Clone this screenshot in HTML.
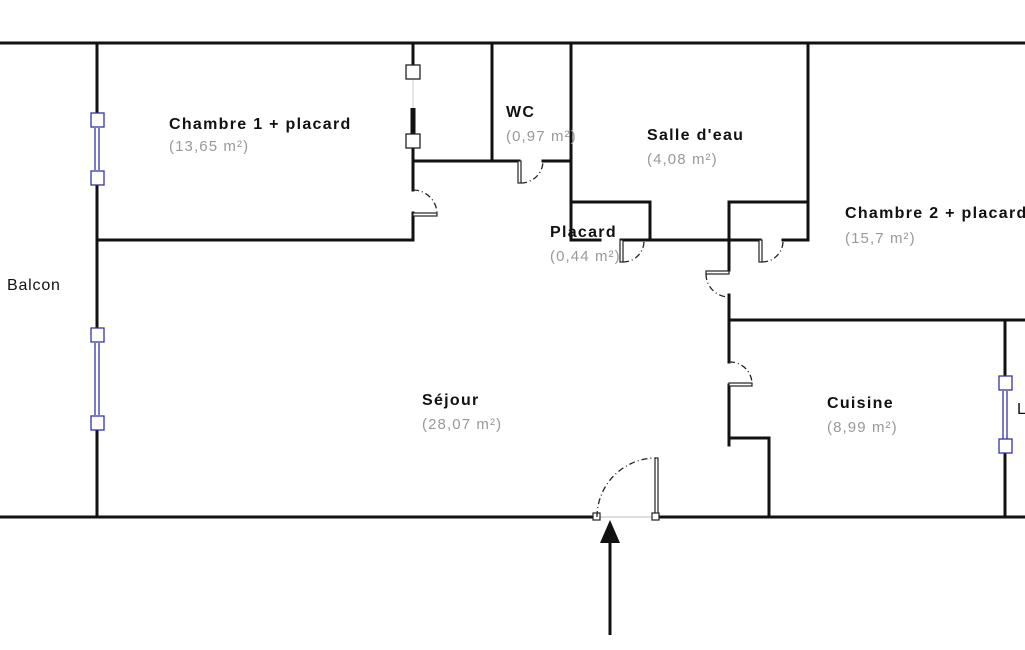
<!DOCTYPE html>
<html><head><meta charset="utf-8"><style>
html,body{margin:0;padding:0;background:#fff;width:1025px;height:650px;overflow:hidden}
svg{display:block}
.b{font-family:"Liberation Sans",sans-serif;font-weight:bold;font-size:16px;fill:#111;letter-spacing:1.3px}
.g{font-family:"Liberation Sans",sans-serif;font-size:15px;fill:#999;letter-spacing:1.1px}
.n{font-family:"Liberation Sans",sans-serif;font-size:16px;fill:#111;letter-spacing:0.8px}
</style></head><body>
<svg width="1025" height="650" viewBox="0 0 1025 650">
<g stroke="#111" stroke-width="3" fill="none" stroke-linecap="square">
<line x1="0" y1="43" x2="1025" y2="43"/>
<line x1="0" y1="517" x2="597" y2="517"/>
<line x1="657" y1="517" x2="1025" y2="517"/>
<line x1="97" y1="43" x2="97" y2="120"/>
<line x1="97" y1="178" x2="97" y2="335"/>
<line x1="97" y1="423" x2="97" y2="517"/>
<line x1="97" y1="240" x2="413" y2="240"/>
<line x1="413" y1="43" x2="413" y2="70"/>
<line x1="413" y1="142" x2="413" y2="190"/>
<line x1="413" y1="213" x2="413" y2="240"/>
<line x1="413" y1="161" x2="519" y2="161"/>
<line x1="543" y1="161" x2="571" y2="161"/>
<line x1="492" y1="43" x2="492" y2="161"/>
<line x1="571" y1="43" x2="571" y2="240"/>
<line x1="571" y1="202" x2="650" y2="202"/>
<line x1="650" y1="202" x2="650" y2="240"/>
<line x1="571" y1="240" x2="600" y2="240"/>
<line x1="621" y1="240" x2="760" y2="240"/>
<line x1="783" y1="240" x2="808" y2="240"/>
<line x1="729" y1="202" x2="808" y2="202"/>
<line x1="808" y1="43" x2="808" y2="240"/>
<line x1="729" y1="202" x2="729" y2="270"/>
<line x1="729" y1="295" x2="729" y2="362"/>
<line x1="729" y1="385" x2="729" y2="445"/>
<line x1="729" y1="320" x2="1025" y2="320"/>
<line x1="729" y1="438" x2="769" y2="438"/>
<line x1="769" y1="438" x2="769" y2="517"/>
<line x1="1005" y1="320" x2="1005" y2="383"/>
<line x1="1005" y1="447" x2="1005" y2="517"/>
</g>
<line x1="413" y1="108" x2="413" y2="134" stroke="#111" stroke-width="5"/>
<line x1="413" y1="79" x2="413" y2="108" stroke="#ccc" stroke-width="1"/>
<line x1="597" y1="517" x2="657" y2="517" stroke="#bbb" stroke-width="1"/>
<g fill="#fff" stroke="#33a" stroke-width="1.3">
<line x1="95" y1="128" x2="95" y2="170"/><line x1="99" y1="128" x2="99" y2="170"/>
<rect x="91" y="113" width="13" height="14"/><rect x="91" y="171" width="13" height="14"/>
<line x1="95" y1="343" x2="95" y2="415"/><line x1="99" y1="343" x2="99" y2="415"/>
<rect x="91" y="328" width="13" height="14"/><rect x="91" y="416" width="13" height="14"/>
<line x1="1003" y1="391" x2="1003" y2="439"/><line x1="1007" y1="391" x2="1007" y2="439"/>
<rect x="999" y="376" width="13" height="14"/><rect x="999" y="439" width="13" height="14"/>
</g>
<g fill="#fff" stroke="#222" stroke-width="1.3">
<rect x="406" y="65" width="14" height="14"/><rect x="406" y="134" width="14" height="14"/>
</g>
<g stroke="#222" stroke-width="1.2" fill="#fff">
<rect x="413" y="213" width="24" height="3"/>
<rect x="518" y="161" width="3" height="22"/>
<rect x="620" y="240" width="3" height="22"/>
<rect x="759" y="240" width="3" height="22"/>
<rect x="706" y="271" width="23" height="3"/>
<rect x="729" y="383" width="23" height="3"/>
<rect x="655" y="458" width="3" height="59"/>
<rect x="593" y="513" width="7" height="7"/><rect x="652" y="513" width="7" height="7"/>
</g>
<g stroke="#222" stroke-width="1.3" fill="none" stroke-dasharray="6,3,1,3">
<path d="M413 190 A24 24 0 0 1 437 213"/>
<path d="M521 183 A22 22 0 0 0 543 161"/>
<path d="M623 262 A21 21 0 0 0 644 240"/>
<path d="M762 262 A21 21 0 0 0 783 240"/>
<path d="M706 274 A23 23 0 0 0 729 297"/>
<path d="M729 362 A22 22 0 0 1 752 383"/>
<path d="M597 517 A59 59 0 0 1 656 458"/>
</g>
<line x1="610" y1="635" x2="610" y2="540" stroke="#111" stroke-width="3"/>
<polygon points="610,520 600,543 620,543" fill="#111"/>
<text class="b" x="169" y="129">Chambre 1 + placard</text>
<text class="g" x="169" y="151">(13,65 m²)</text>
<text class="b" x="506" y="117">WC</text>
<text class="g" x="506" y="141">(0,97 m²)</text>
<text class="b" x="647" y="140">Salle d'eau</text>
<text class="g" x="647" y="164">(4,08 m²)</text>
<text class="b" x="550" y="237">Placard</text>
<text class="g" x="550" y="261">(0,44 m²)</text>
<text class="b" x="845" y="218">Chambre 2 + placard</text>
<text class="g" x="845" y="243">(15,7 m²)</text>
<text class="n" x="7" y="290">Balcon</text>
<text class="b" x="422" y="405">Séjour</text>
<text class="g" x="422" y="429">(28,07 m²)</text>
<text class="b" x="827" y="408">Cuisine</text>
<text class="g" x="827" y="432">(8,99 m²)</text>
<text class="n" x="1017" y="414">L</text>
</svg>
</body></html>
